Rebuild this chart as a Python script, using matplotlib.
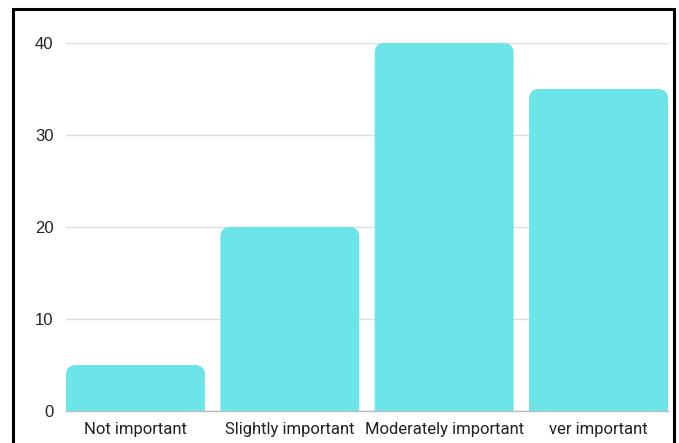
import matplotlib.pyplot as plt
from matplotlib.patches import PathPatch, Rectangle
from matplotlib.path import Path

categories = ['Not important', 'Slightly important', 'Moderately important', 'ver important']
counts = [5, 20, 40, 35]
yticks = [0, 10, 20, 30, 40]

bar_color = '#6ce5e8'
width = 0.9


# bar with rounded top corners (rx, ry in data units)
def rounded_bar(x, h, w, rx, ry):
    x0, x1 = x - w / 2, x + w / 2
    verts = [
        (x0, 0), (x0, h - ry), (x0, h), (x0 + rx, h),
        (x1 - rx, h), (x1, h), (x1, h - ry),
        (x1, 0), (x0, 0),
    ]
    codes = [
        Path.MOVETO, Path.LINETO, Path.CURVE3, Path.CURVE3,
        Path.LINETO, Path.CURVE3, Path.CURVE3,
        Path.LINETO, Path.CLOSEPOLY,
    ]
    return Path(verts, codes)


fig = plt.figure(figsize=(6.79, 4.43), dpi=100)
ax = fig.add_axes([66 / 679, 1 - 411 / 443, (668 - 66) / 679, (411 - 43) / 443])

ax.set_xlim(-width / 2, len(categories) - 1 + width / 2)
ax.set_ylim(0, 40)

rx = 10 / 154.3
ry = 10 / 9.2
for i, v in enumerate(counts):
    ax.add_patch(PathPatch(rounded_bar(i, v, width, rx, ry),
                           facecolor=bar_color, edgecolor='none', zorder=3))

ax.set_yticks(yticks)
ax.set_yticklabels([str(t) for t in yticks], fontfamily='Liberation Sans', fontsize=12, color='#222222')
ax.set_xticks(range(len(categories)))
ax.set_xticklabels(categories, fontfamily='Roboto', fontsize=12, color='#222222')
ax.tick_params(axis='both', length=0)
ax.tick_params(axis='y', pad=9)
ax.tick_params(axis='x', pad=8)

ax.grid(axis='y', color='#dddddd', linewidth=1, zorder=0)
for s in ['top', 'right', 'left']:
    ax.spines[s].set_visible(False)
ax.spines['bottom'].set_color('#bbbbbb')
ax.spines['bottom'].set_linewidth(1)
ax.spines['bottom'].set_zorder(2)

# black frame round the figure, open at the bottom edge
frame = Rectangle((13 / 679, -0.1), (674 - 13) / 679, 1.1 - 9 / 443,
                  transform=fig.transFigure, fill=False, edgecolor='black',
                  linewidth=2.2, clip_on=False)
fig.patches.append(frame)

fig.savefig('out.png', dpi=100)
